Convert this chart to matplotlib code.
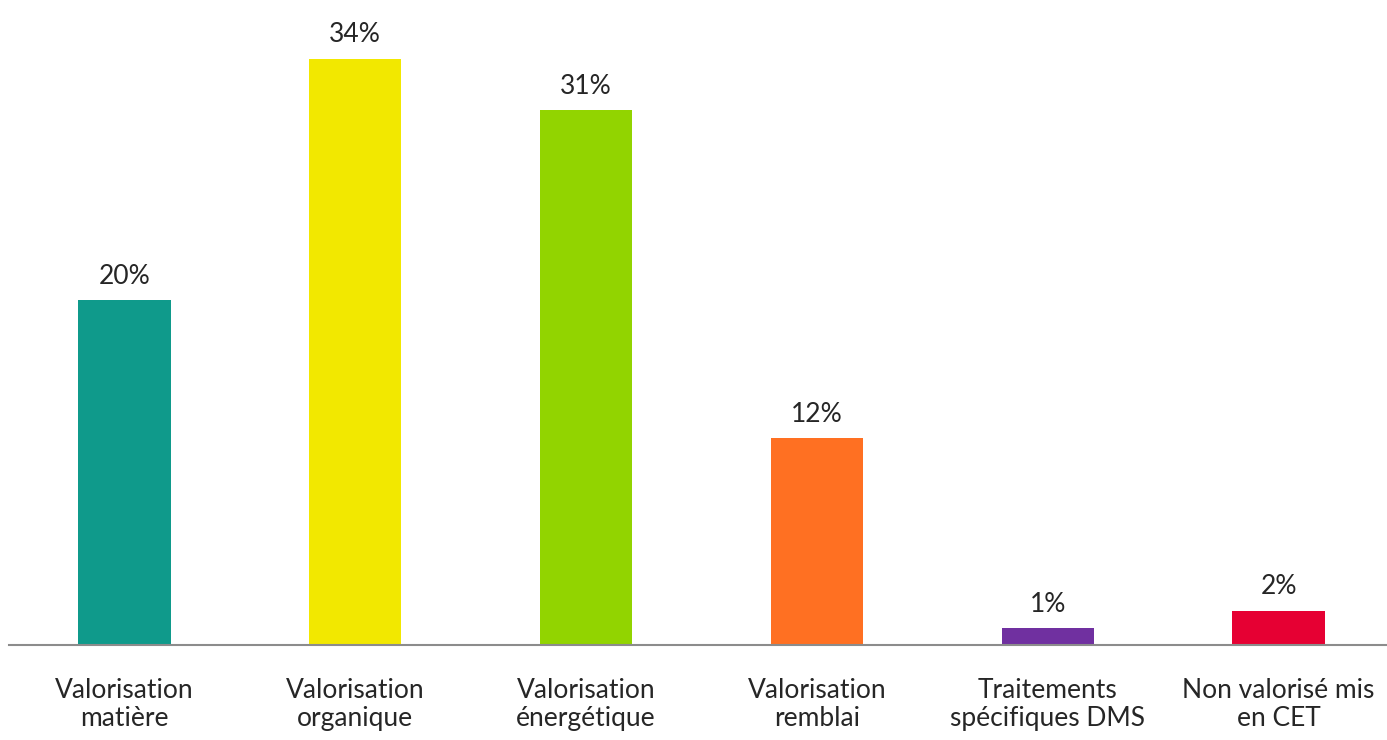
import matplotlib
matplotlib.use("Agg")
import matplotlib.pyplot as plt

# Data
categories = [
    "Valorisation\nmatière",
    "Valorisation\norganique",
    "Valorisation\nénergétique",
    "Valorisation\nremblai",
    "Traitements\nspécifiques DMS",
    "Non valorisé mis\nen CET",
]
values = [20, 34, 31, 12, 1, 2]
colors = ["#0F9A8B", "#F2E800", "#92D400", "#FF7022", "#7030A0", "#E60033"]

plt.rcParams["font.family"] = ["Lato", "DejaVu Sans"]

fig = plt.figure(figsize=(13.87, 7.40), dpi=100)
ax = fig.add_axes([9 / 1387, 95 / 740, 1385 / 1387, 621 / 740])

x = range(len(categories))
ax.bar(x, values, width=0.40, color=colors, zorder=2)

for xi, v in zip(x, values):
    ax.annotate(f"{v}%", (xi, v), xytext=(0, 8), textcoords="offset points",
                ha="center", va="bottom", fontsize=19, color="#262626")

ax.set_xlim(-0.5, len(categories) - 0.5)
ax.set_ylim(0, 36)
ax.set_xticks(list(x))
ax.set_xticklabels(categories, fontsize=19, color="#262626", linespacing=1.12)
ax.tick_params(axis="x", length=0, pad=24)
ax.set_yticks([])

for side in ["top", "right", "left"]:
    ax.spines[side].set_visible(False)
ax.spines["bottom"].set_color("#8C8C8C")
ax.spines["bottom"].set_linewidth(1.5)

fig.savefig("out.png", dpi=100)
